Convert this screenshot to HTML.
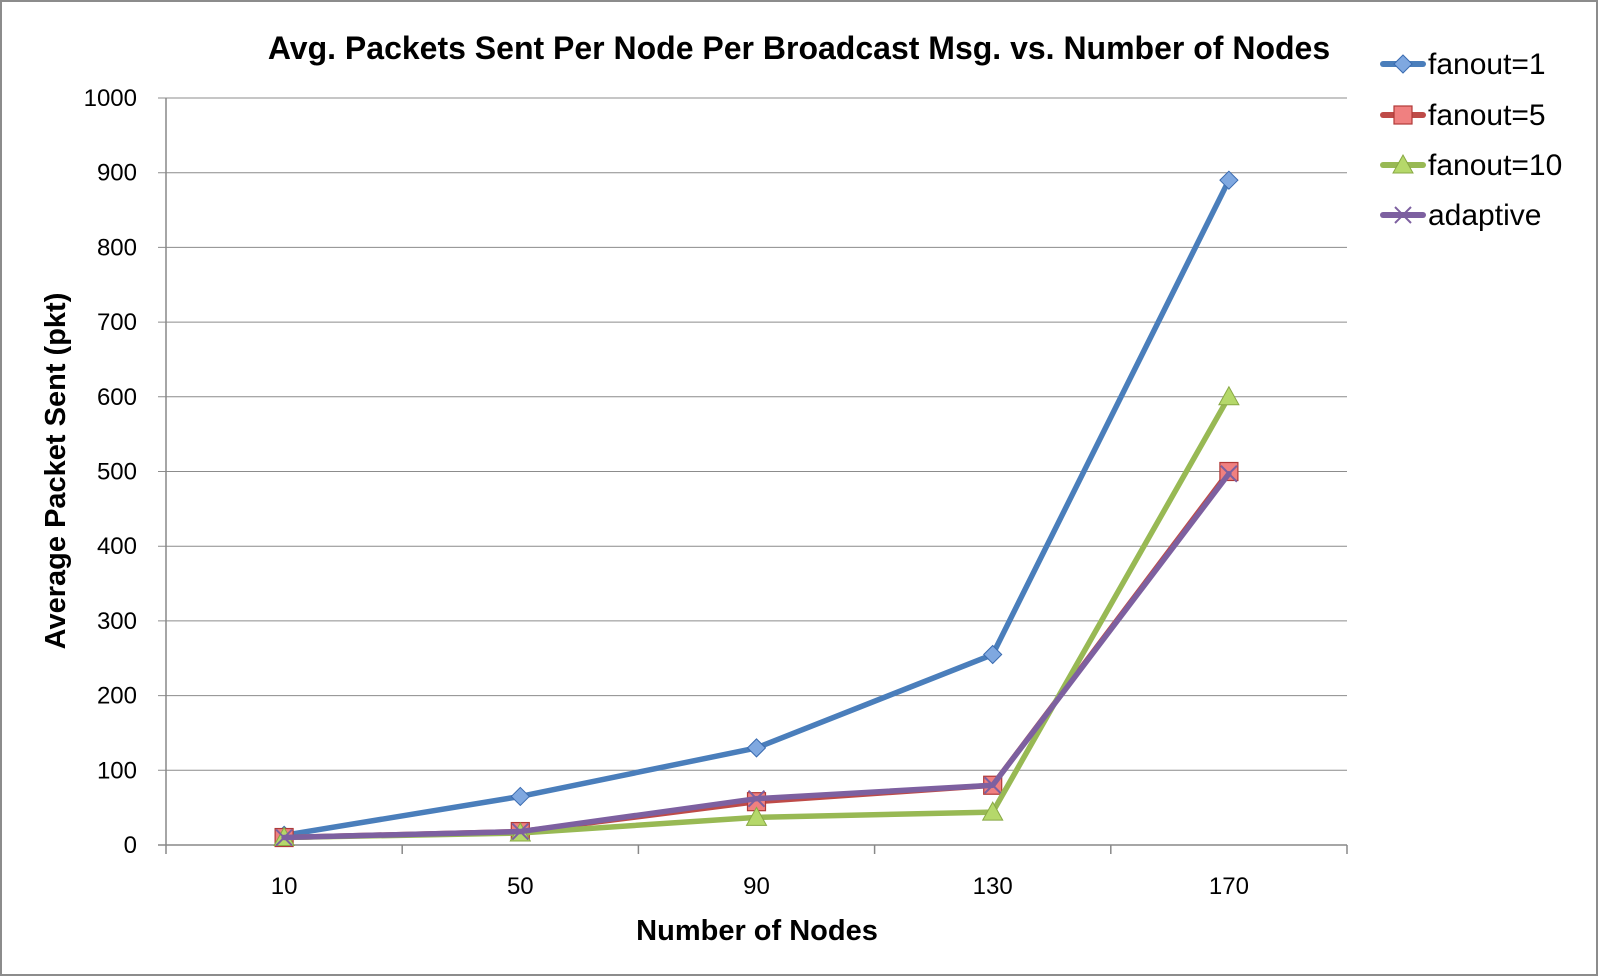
<!DOCTYPE html>
<html><head><meta charset="utf-8"><style>
html,body{margin:0;padding:0;background:#fff;}
svg{display:block;font-family:"Liberation Sans",Calibri,sans-serif;}
</style></head><body>
<svg id="chart" width="1599" height="977" viewBox="0 0 1599 977">
<rect x="1" y="1" width="1596" height="974" fill="#fff" stroke="#8c8c8c" stroke-width="2"/>
<text x="799" y="59" text-anchor="middle" font-size="32" font-weight="bold" fill="#000">Avg. Packets Sent Per Node Per Broadcast Msg. vs. Number of Nodes</text>
<text x="757" y="940" text-anchor="middle" font-size="29" font-weight="bold">Number of Nodes</text>
<text transform="translate(65,471) rotate(-90)" text-anchor="middle" font-size="29" font-weight="bold">Average Packet  Sent (pkt)</text>
<g id="grid"></g><g id="series"></g><g id="legend"></g>
</svg>
<script>
const categories=[10,50,90,130,170];
const yTicks=[0,100,200,300,400,500,600,700,800,900,1000];
const fanout1=[13,65,130,255,890];
const fanout5=[10,18,58,80,500];
const fanout10=[10,16,37,44,600];
const adaptive=[10,18,62,80,497];
const seriesNames=['fanout=1','fanout=5','fanout=10','adaptive'];
const NS='http://www.w3.org/2000/svg';
const X0=166,X1=1347,Y0=845,Y1=98,YMAX=1000;
const band=(X1-X0)/categories.length;
function xs(i){return X0+band*(i+0.5);}
function ys(v){return Y0-(v/YMAX)*(Y0-Y1);}
function mk(tag,attrs,parent){const e=document.createElementNS(NS,tag);for(const k in attrs)e.setAttribute(k,attrs[k]);parent.appendChild(e);return e;}
const grid=document.getElementById('grid');
yTicks.forEach(t=>{
 const l=mk('line',{x1:X0-8,x2:X1,y1:ys(t),y2:ys(t),stroke:t===0?'#888':'#8c8c8c','stroke-width':t===0?1.5:1},grid);
 
 
 const tx=mk('text',{x:137,y:ys(t)+8,'text-anchor':'end','font-size':24},grid);tx.textContent=t;
 
 
});
const ax=mk('line',{x1:X0,x2:X0,y1:Y1,y2:Y0,stroke:'#888','stroke-width':1.5},grid);


for(let i=0;i<=categories.length;i++){
 const t=mk('line',{x1:X0+band*i,x2:X0+band*i,y1:Y0,y2:Y0+9,stroke:'#888','stroke-width':1.5},grid);
 
 
}
categories.forEach((c,i)=>{
 const tx=mk('text',{x:xs(i),y:894,'text-anchor':'middle','font-size':24},grid);tx.textContent=c;
 
 
});
const colors=['#4a7ebb','#be4b48','#98b954','#7d60a0'];
const fills=['#7fa8e0','#f08080','#b5d86a','#7d60a0'];
const data=[fanout1,fanout5,fanout10,adaptive];
const sg=document.getElementById('series');
function marker(kind,x,y,i,parent){
 let e;
 if(kind===0)e=mk('polygon',{points:`${x},${y-9} ${x+9},${y} ${x},${y+9} ${x-9},${y}`,fill:fills[0],stroke:'#3a6bb0','stroke-width':1},parent);
 else if(kind===1)e=mk('rect',{x:x-9,y:y-9,width:18,height:18,fill:fills[1],stroke:'#b03a38','stroke-width':1.2},parent);
 else if(kind===2)e=mk('polygon',{points:`${x},${y-10} ${x+10},${y+8} ${x-10},${y+8}`,fill:fills[2],stroke:'#88a844','stroke-width':1},parent);
 else e=mk('path',{d:`M${x-8},${y-8}L${x+8},${y+8}M${x-8},${y+8}L${x+8},${y-8}`,stroke:'#7d60a0','stroke-width':2},parent);
 return e;
}
data.forEach((arr,s)=>{
 const g=mk('g',{},sg);
 
 
 const p=mk('polyline',{points:arr.map((v,i)=>xs(i)+','+ys(v)).join(' '),fill:'none',stroke:colors[s],'stroke-width':5.5,'stroke-linejoin':'round','stroke-linecap':'round'},g);
 
 
 arr.forEach((v,i)=>{const m=marker(s,xs(i),ys(v),i,g);
  
  });
});
const lg=document.getElementById('legend');
const lys=[64,115,165,215];
seriesNames.forEach((n,s)=>{
 const g=mk('g',{},lg);
 
 
 mk('line',{x1:1383,x2:1423,y1:lys[s],y2:lys[s],stroke:colors[s],'stroke-width':6,'stroke-linecap':'round'},g);
 marker(s,1403,lys[s],0,g);
 const t=mk('text',{x:1428,y:lys[s]+10,'font-size':30},g);t.textContent=n;
});
</script>
</body></html>
